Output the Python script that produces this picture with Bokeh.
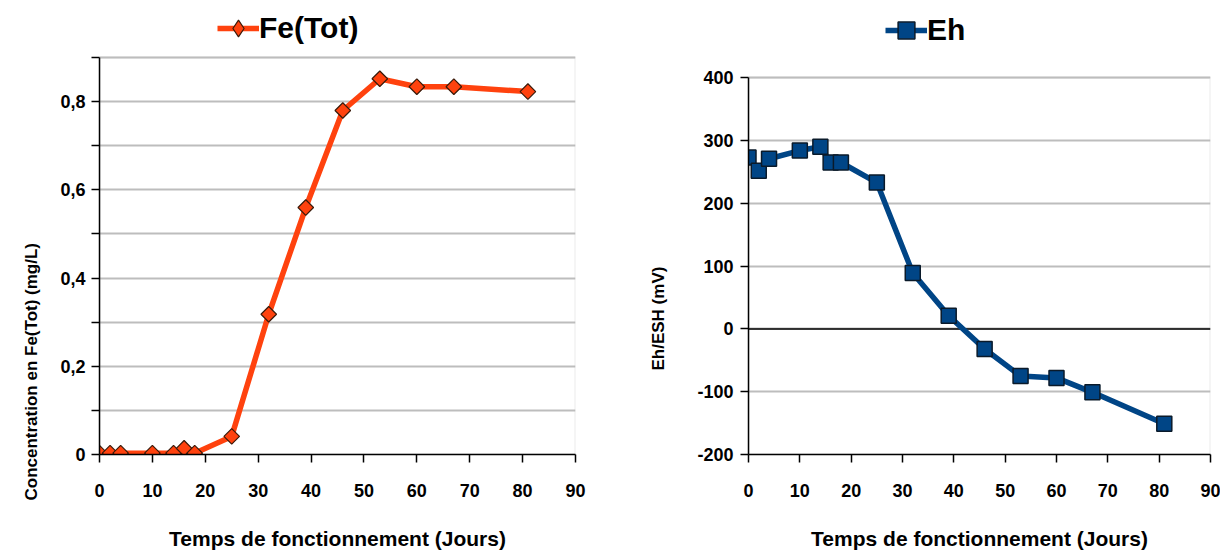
import math
from bokeh.plotting import figure
from bokeh.layouts import row
from bokeh.models import (Legend, LegendItem, FixedTicker, CustomJSTickFormatter,
                          Range1d, Span, BoxAnnotation, Title)
from bokeh.embed import file_html
from bokeh.resources import INLINE

days = [0, 2, 4, 10, 14, 16, 18, 25, 32, 39, 46, 53, 60, 67, 81]
fe_tot = [0.003, 0.003, 0.003, 0.003, 0.003, 0.014, 0.003, 0.041, 0.318, 0.56, 0.78, 0.852, 0.834, 0.834, 0.823]
eh = [273, 252, 271, 284, 290, 265, 265, 233, 89, 21, -32, -75, -78, -101, -151]

x_ticks = [0, 10, 20, 30, 40, 50, 60, 70, 80, 90]
fe_major = [0, 0.2, 0.4, 0.6, 0.8]
fe_minor = [0.1, 0.3, 0.5, 0.7, 0.9]
eh_ticks = [-200, -100, 0, 100, 200, 300, 400]

FONT = "Liberation Sans"
ORANGE = "#ff420e"
BLUE = "#004586"
GRID = "#bdbdbd"


def style(p, ybounds):
    p.outline_line_color = None
    p.xgrid.grid_line_color = None
    p.ygrid.grid_line_color = GRID
    p.ygrid.grid_line_width = 2
    for ax in (p.xaxis[0], p.yaxis[0]):
        ax.axis_line_color = "black"
        ax.axis_line_width = 1.5
        ax.major_tick_line_color = "black"
        ax.major_tick_line_width = 1.5
        ax.minor_tick_line_color = "black"
        ax.minor_tick_line_width = 1.5
        ax.major_tick_in = 0
        ax.minor_tick_in = 0
        ax.major_tick_out = 8
        ax.minor_tick_out = 8
        ax.major_label_text_font = FONT
        ax.major_label_text_font_style = "bold"
        ax.major_label_text_font_size = "18px"
        ax.major_label_text_color = "black"
        ax.axis_label_text_font = FONT
        ax.axis_label_text_font_style = "bold"
        ax.axis_label_text_color = "black"
    p.yaxis.bounds = ybounds
    p.xaxis.ticker = FixedTicker(ticks=x_ticks)
    p.xaxis.axis_label = "Temps de fonctionnement (Jours)"
    p.xaxis.axis_label_text_font_size = "21px"
    p.xaxis.formatter = CustomJSTickFormatter(code="return tick.toString();")
    p.xaxis.major_label_standoff = 21
    p.xaxis.axis_label_standoff = 27
    p.add_layout(BoxAnnotation(left=0, right=90, bottom=ybounds[0], top=ybounds[1],
                               fill_alpha=0, line_color=GRID, line_width=2,
                               level="underlay"))


def y_title(p, text, offset, standoff):
    p.add_layout(Title(text=text, align="left", vertical_align="bottom",
                       offset=offset, standoff=standoff,
                       text_font=FONT, text_font_style="bold",
                       text_font_size="17px", text_color="black"), "left")


def make_legend(label, renderers, x, y):
    return Legend(items=[LegendItem(label=label, renderers=renderers)],
                  orientation="horizontal", location=(x, y),
                  label_text_font=FONT, label_text_font_style="bold",
                  label_text_font_size="30px", label_text_color="black",
                  glyph_width=42, glyph_height=42, label_standoff=0,
                  border_line_color=None, background_fill_alpha=0,
                  padding=0, margin=0)


# ---------------- Left: Fe(Tot) ----------------
p1 = figure(frame_width=476, frame_height=450, output_backend="svg", toolbar_location=None,
            x_range=Range1d(0, 90), y_range=Range1d(0, 1.0204),
            min_border_left=99, min_border_right=25, min_border_top=4, min_border_bottom=96)
style(p1, (0, 0.9))
p1.yaxis.ticker = FixedTicker(ticks=fe_major, minor_ticks=fe_minor)
p1.ygrid.minor_grid_line_color = GRID
p1.ygrid.minor_grid_line_width = 2
p1.yaxis.major_label_standoff = 6
p1.yaxis.formatter = CustomJSTickFormatter(
    code="return tick == 0 ? '0' : tick.toFixed(1).replace('.', ',');")
y_title(p1, "Concentration en Fe(Tot) (mg/L)", -46, 34)

l1 = p1.line(days, fe_tot, line_color=ORANGE, line_width=5.5)
# diamond marker used for the legend key (sits hidden under the plotted markers)
k1 = p1.scatter(days, fe_tot, marker="diamond", size=1, fill_color=ORANGE,
                line_color="#3a1a0a", line_width=1.2)
m1 = p1.scatter(days, fe_tot, marker="square", angle=math.pi / 4, size=11,
                fill_color=ORANGE, line_color="#3a1a0a", line_width=1.2)
p1.add_layout(make_legend("Fe(Tot)", [l1, k1], 118, 405))

# ---------------- Right: Eh ----------------
p2 = figure(frame_width=462, frame_height=450, output_backend="svg", toolbar_location=None,
            x_range=Range1d(0, 90), y_range=Range1d(-200, 516.6),
            min_border_left=148, min_border_right=10, min_border_top=4, min_border_bottom=96)
style(p2, (-200, 400))
p2.yaxis.ticker = FixedTicker(ticks=eh_ticks)
p2.yaxis.major_label_standoff = 7
p2.yaxis.formatter = CustomJSTickFormatter(code="return tick.toString();")
y_title(p2, "Eh/ESH  (mV)", 84, 54)
p2.add_layout(Span(location=0, dimension="width", line_color="black", line_width=1.5,
                   level="underlay"))

l2 = p2.line(days, eh, line_color=BLUE, line_width=5.5)
m2 = p2.scatter(days, eh, marker="square", size=15, fill_color=BLUE,
                line_color="#0a1a2a", line_width=1.5)
p2.add_layout(make_legend("Eh", [l2, m2], 137, 403))

layout = row(p1, p2, spacing=0)
open("out.html", "w").write(file_html(layout, INLINE))
